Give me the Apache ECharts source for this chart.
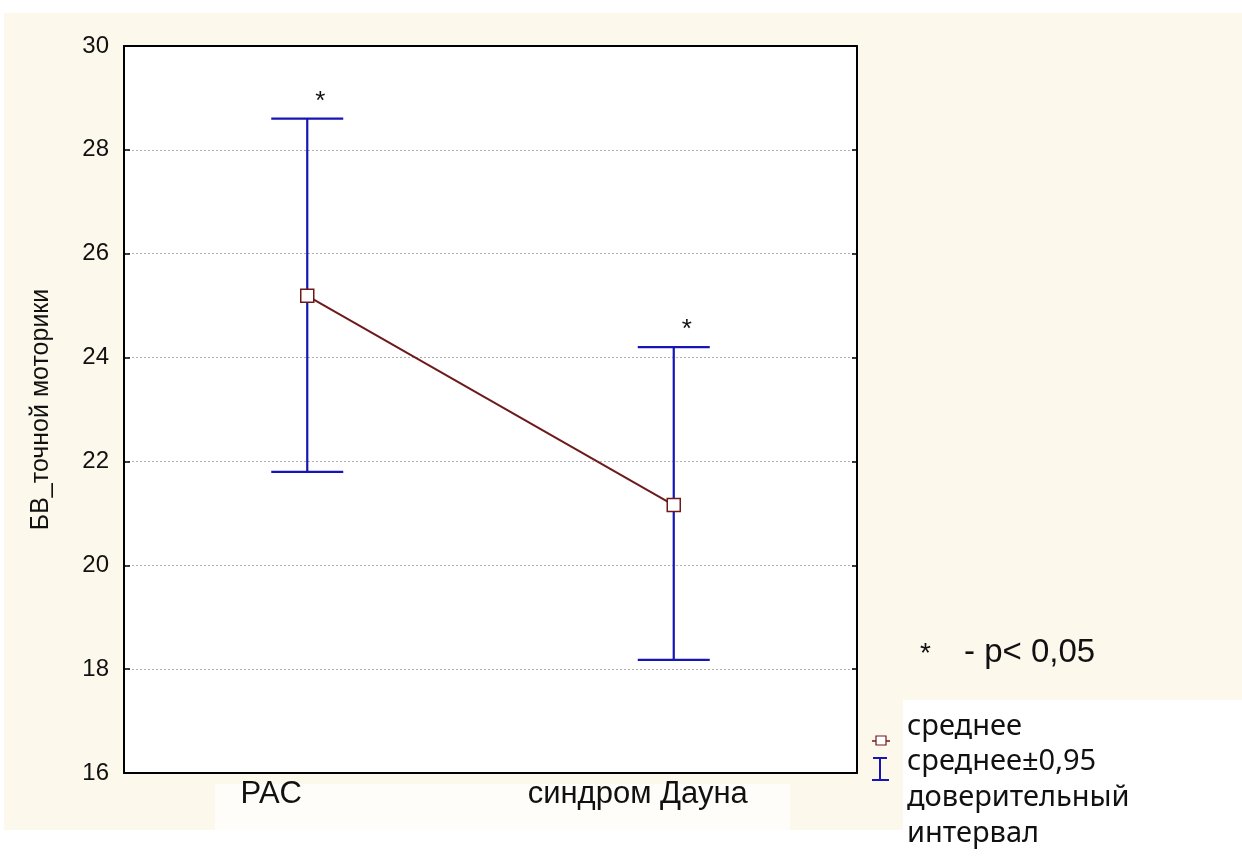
<!DOCTYPE html>
<html>
<head>
<meta charset="utf-8">
<script src="https://cdn.jsdelivr.net/npm/echarts@6/dist/echarts.min.js"></script>
<style>
html,body{margin:0;padding:0;background:#ffffff;}
#chart{width:1242px;height:858px;}
</style>
</head>
<body>
<div id="chart"></div>
<script>
// ---- data ----
const categories = ['PAC', 'синдром Дауна'];
const means = [25.19, 21.16];
const ciLower = [21.80, 18.18];
const ciUpper = [28.60, 24.20];
const significance = ['*', '*'];
const yTicks = [16, 18, 20, 22, 24, 26, 28, 30];
const yAxisTitle = 'БВ_точной моторики';
const noteStar = '*';
const noteText = '- p< 0,05';
const legendMean = 'среднее';
const legendCI = ['среднее±0,95', 'доверительный', 'интервал'];

const cream = '#fcf8ec';
const blue = '#1616b4';
const dark = '#6e1a1a';

const errData = categories.map((c, i) => [i, ciLower[i], ciUpper[i], significance[i]]);

const chart = echarts.init(document.getElementById('chart'), null, {renderer: 'canvas'});

const option = {
  backgroundColor: '#ffffff',
  animation: false,
  grid: {
    left: 124, top: 46, width: 733, height: 727,
    show: true, backgroundColor: '#ffffff', borderWidth: 0
  },
  xAxis: [{
    type: 'category',
    data: categories,
    boundaryGap: true,
    axisLine: {lineStyle: {color: '#000', width: 2}},
    axisTick: {alignWithLabel: true, inside: true, length: 6, lineStyle: {color: '#000', width: 1.5}},
    axisLabel: {
      color: '#111', fontFamily: 'Liberation Sans, Arial', fontSize: 31,
      margin: 6, padding: [0, 72, 0, 0]
    },
    splitLine: {show: false}
  }, {
    type: 'category',
    data: categories,
    position: 'top',
    boundaryGap: true,
    axisLine: {lineStyle: {color: '#000', width: 2}},
    axisTick: {alignWithLabel: true, inside: true, length: 6, lineStyle: {color: '#000', width: 1.5}},
    axisLabel: {show: false}
  }],
  yAxis: [{
    type: 'value',
    min: yTicks[0], max: yTicks[yTicks.length - 1], interval: 2,
    name: yAxisTitle,
    nameLocation: 'middle',
    nameGap: 70,
    nameRotate: 90,
    nameTextStyle: {color: '#111', fontFamily: 'Liberation Sans, Arial', fontSize: 25},
    axisLine: {show: true, lineStyle: {color: '#000', width: 2}},
    axisTick: {show: true, inside: true, length: 6, lineStyle: {color: '#000', width: 1.5}},
    axisLabel: {color: '#111', fontFamily: 'Liberation Sans, Arial', fontSize: 24, margin: 15},
    splitLine: {show: true, lineStyle: {color: '#b0b0b0', type: [2, 2], width: 1}}
  }, {
    type: 'value',
    position: 'right',
    min: yTicks[0], max: yTicks[yTicks.length - 1], interval: 2,
    axisLine: {show: true, lineStyle: {color: '#000', width: 2}},
    axisTick: {show: true, inside: true, length: 5, lineStyle: {color: '#000', width: 1.5}},
    axisLabel: {show: false},
    splitLine: {show: false}
  }],
  series: [{
    type: 'custom',
    xAxisIndex: 0, yAxisIndex: 0,
    data: errData,
    encode: {x: 0, y: [1, 2]},
    z: 2,
    renderItem: function (params, api) {
      const i = api.value(0);
      const lo = api.coord([i, api.value(1)]);
      const hi = api.coord([i, api.value(2)]);
      const hw = 36;
      const st = {stroke: blue, lineWidth: 2.2};
      return {
        type: 'group',
        children: [
          {type: 'line', shape: {x1: hi[0], y1: hi[1], x2: lo[0], y2: lo[1]}, style: st},
          {type: 'line', shape: {x1: hi[0] - hw, y1: hi[1], x2: hi[0] + hw, y2: hi[1]}, style: st},
          {type: 'line', shape: {x1: lo[0] - hw, y1: lo[1], x2: lo[0] + hw, y2: lo[1]}, style: st},
          {type: 'text', x: hi[0] + 13, y: hi[1] - 17,
            style: {text: significance[i], fill: '#111', font: '26px Liberation Sans, Arial',
              align: 'center', verticalAlign: 'middle'}}
        ]
      };
    }
  }, {
    type: 'line',
    xAxisIndex: 0, yAxisIndex: 0,
    data: means,
    z: 5,
    symbol: 'rect',
    symbolSize: 13,
    lineStyle: {color: dark, width: 2},
    itemStyle: {color: '#ffffff', borderColor: dark, borderWidth: 1.5}
  }],
  graphic: [
    // cream backdrop regions
    {type: 'rect', z: -10, silent: true, shape: {x: 4, y: 13, width: 1238, height: 817}, style: {fill: cream}},
    {type: 'rect', z: -9, silent: true, shape: {x: 903, y: 700, width: 339, height: 158}, style: {fill: '#ffffff'}},
    {type: 'rect', z: -9, silent: true, shape: {x: 215, y: 784, width: 575, height: 46}, style: {fill: '#fefdf9'}},
    // note
    {type: 'text', left: 920, top: 640, style: {text: noteStar, fill: '#111', font: '28px Liberation Sans, Arial'}},
    {type: 'text', left: 964, top: 636, style: {text: noteText, fill: '#111', font: '33px Liberation Sans, Arial'}},
    // legend icons
    {type: 'line', shape: {x1: 872, y1: 741, x2: 890, y2: 741}, style: {stroke: dark, lineWidth: 1.5}},
    {type: 'rect', shape: {x: 876, y: 736, width: 10, height: 9}, style: {fill: '#fff', stroke: dark, lineWidth: 1.2}},
    {type: 'line', shape: {x1: 880, y1: 758, x2: 880, y2: 780}, style: {stroke: blue, lineWidth: 2}},
    {type: 'line', shape: {x1: 873, y1: 758, x2: 887, y2: 758}, style: {stroke: blue, lineWidth: 2}},
    {type: 'line', shape: {x1: 872, y1: 780, x2: 889, y2: 780}, style: {stroke: blue, lineWidth: 2}},
    // legend text
    {type: 'text', left: 907, top: 712, style: {text: legendMean, fill: '#111', font: '29px Noto Sans, Open Sans'}},
    {type: 'text', left: 907, top: 747, style: {text: legendCI[0], fill: '#111', font: '29px Noto Sans, Open Sans'}},
    {type: 'text', left: 907, top: 783, style: {text: legendCI[1], fill: '#111', font: '29px Noto Sans, Open Sans'}},
    {type: 'text', left: 907, top: 819, style: {text: legendCI[2], fill: '#111', font: '29px Noto Sans, Open Sans'}}
  ]
};
chart.setOption(option);
</script>
</body>
</html>
